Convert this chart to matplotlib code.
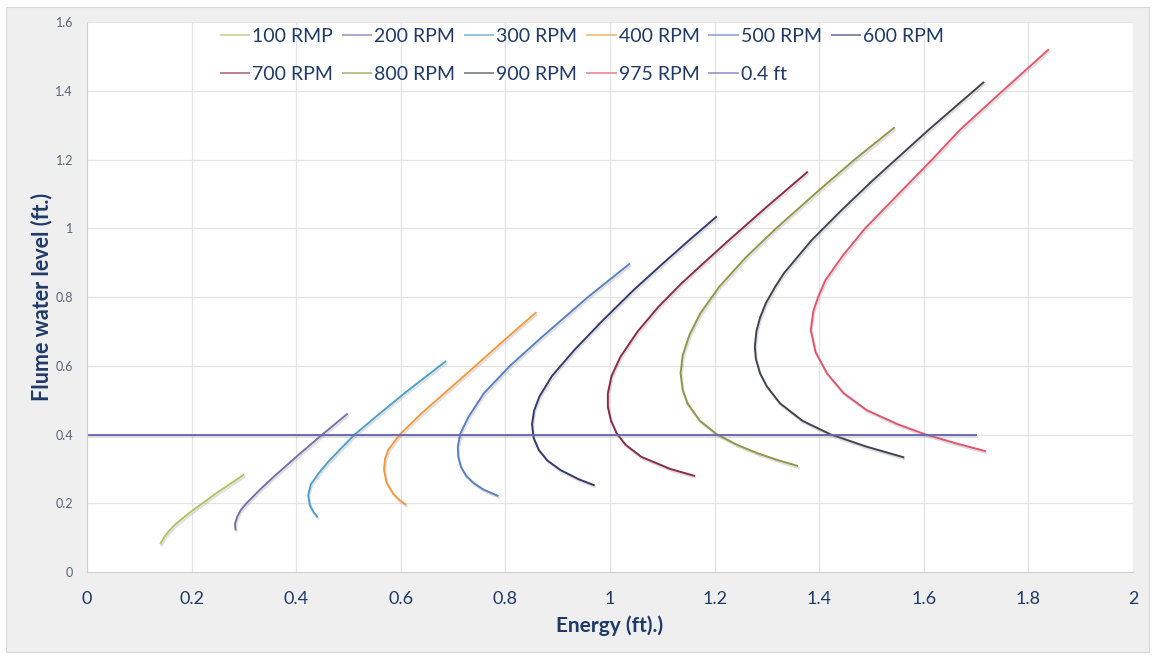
import matplotlib
matplotlib.use('Agg')
import matplotlib.pyplot as plt
import matplotlib.patheffects as pe
from matplotlib.patches import Rectangle

plt.rcParams['font.family'] = ['Lato', 'DejaVu Sans']

# specific energy curves (energy ft, flume depth ft)
labels = ['100 RMP', '200 RPM', '300 RPM', '400 RPM', '500 RPM',
          '600 RPM', '700 RPM', '800 RPM', '900 RPM', '975 RPM']
colors = ['#b3c064', '#7a6fa6', '#4f9fc6', '#f39a3e', '#5a80c0',
          '#343b6c', '#8a2b4c', '#8e9848', '#40444f', '#e0566e']

e_100 = [0.141, 0.147, 0.157, 0.170, 0.195, 0.245, 0.299]
y_100 = [0.083, 0.100, 0.120, 0.140, 0.171, 0.227, 0.282]
e_200 = [0.284, 0.283, 0.287, 0.294, 0.305, 0.331, 0.357, 0.404, 0.450, 0.497]
y_200 = [0.124, 0.140, 0.160, 0.180, 0.200, 0.240, 0.277, 0.340, 0.400, 0.459]
e_300 = [0.440, 0.433, 0.426, 0.423, 0.428, 0.443, 0.461, 0.486, 0.512, 0.559, 0.607, 0.685]
y_300 = [0.161, 0.175, 0.195, 0.224, 0.255, 0.287, 0.320, 0.360, 0.400, 0.460, 0.520, 0.612]
e_400 = [0.609, 0.597, 0.585, 0.573, 0.568, 0.570, 0.576, 0.598, 0.640, 0.676, 0.743, 0.802, 0.858]
y_400 = [0.197, 0.210, 0.229, 0.260, 0.297, 0.330, 0.355, 0.400, 0.462, 0.510, 0.600, 0.680, 0.754]
e_500 = [0.785, 0.758, 0.740, 0.725, 0.715, 0.710, 0.709, 0.714, 0.729, 0.759, 0.809, 0.871, 0.958, 1.037]
y_500 = [0.222, 0.240, 0.258, 0.280, 0.306, 0.335, 0.365, 0.403, 0.450, 0.520, 0.600, 0.685, 0.800, 0.896]
e_600 = [0.969, 0.940, 0.905, 0.880, 0.864, 0.854, 0.851, 0.855, 0.865, 0.889, 0.932, 0.985,
         1.045, 1.103, 1.152, 1.203]
y_600 = [0.253, 0.270, 0.297, 0.325, 0.355, 0.390, 0.430, 0.470, 0.510, 0.570, 0.646, 0.730,
         0.820, 0.900, 0.966, 1.033]
e_700 = [1.161, 1.115, 1.060, 1.030, 1.013, 1.002, 0.996, 0.996, 1.003, 1.020, 1.053, 1.093,
         1.137, 1.180, 1.228, 1.298, 1.377]
y_700 = [0.280, 0.300, 0.335, 0.370, 0.403, 0.440, 0.480, 0.520, 0.570, 0.626, 0.700, 0.772,
         0.840, 0.900, 0.966, 1.060, 1.163]
e_800 = [1.358, 1.322, 1.283, 1.243, 1.204, 1.172, 1.148, 1.139, 1.135, 1.139, 1.152, 1.173,
         1.209, 1.261, 1.318, 1.400, 1.468, 1.543]
y_800 = [0.309, 0.325, 0.345, 0.370, 0.401, 0.440, 0.491, 0.530, 0.578, 0.630, 0.690, 0.753,
         0.830, 0.917, 1.000, 1.111, 1.200, 1.292]
e_900 = [1.561, 1.490, 1.421, 1.368, 1.325, 1.300, 1.287, 1.279, 1.277, 1.280, 1.287, 1.298,
         1.316, 1.333, 1.386, 1.441, 1.503, 1.556, 1.609, 1.714]
y_900 = [0.334, 0.365, 0.401, 0.440, 0.491, 0.540, 0.578, 0.620, 0.655, 0.700, 0.740, 0.782,
         0.830, 0.870, 0.966, 1.050, 1.140, 1.213, 1.286, 1.424]
e_975 = [1.717, 1.660, 1.602, 1.550, 1.491, 1.447, 1.415, 1.393, 1.384, 1.389, 1.398, 1.412,
         1.445, 1.488, 1.552, 1.616, 1.669, 1.751, 1.838]
y_975 = [0.352, 0.375, 0.401, 0.430, 0.471, 0.520, 0.578, 0.640, 0.704, 0.760, 0.800, 0.849,
         0.920, 1.000, 1.100, 1.200, 1.286, 1.400, 1.519]

energies = [e_100, e_200, e_300, e_400, e_500, e_600, e_700, e_800, e_900, e_975]
depths = [y_100, y_200, y_300, y_400, y_500, y_600, y_700, y_800, y_900, y_975]

# 0.4 ft reference line
ref_e = [0, 1.70]
ref_y = [0.4, 0.4]

navy = '#1f3a68'
shadow = [pe.SimpleLineShadow(offset=(0.8, -1.5), shadow_color='#808080', alpha=0.25),
          pe.Normal()]

fig = plt.figure(figsize=(11.55, 6.6), dpi=100)
fig.patch.set_facecolor('white')
fig.patches.append(Rectangle((0.005, 0.012), 0.99, 0.978, transform=fig.transFigure,
                             facecolor='#efefef', edgecolor='#d8d8d8', lw=0.8, zorder=-1))
ax = fig.add_axes([0.0753, 0.1333, 0.9056, 0.8333])
ax.set_facecolor('white')

handles = []
for e, y, lab, c in zip(energies, depths, labels, colors):
    h, = ax.plot(e, y, color=c, lw=1.4, label=lab, path_effects=shadow,
                 solid_joinstyle='round')
    handles.append(h)
h, = ax.plot(ref_e, ref_y, color='#6b6bb3', lw=1.4, label='0.4 ft', path_effects=shadow)
handles.append(h)

ax.set_xlim(0, 2)
ax.set_ylim(0, 1.6)
ax.set_xticks([0, 0.2, 0.4, 0.6, 0.8, 1, 1.2, 1.4, 1.6, 1.8, 2])
ax.set_xticklabels(['0', '0.2', '0.4', '0.6', '0.8', '1', '1.2', '1.4', '1.6', '1.8', '2'])
ax.set_yticks([0, 0.2, 0.4, 0.6, 0.8, 1, 1.2, 1.4, 1.6])
ax.set_yticklabels(['0', '0.2', '0.4', '0.6', '0.8', '1', '1.2', '1.4', '1.6'])
ax.grid(True, color='#e4e4e4', lw=0.9)
ax.set_axisbelow(True)
for s in ['top', 'right']:
    ax.spines[s].set_visible(False)
for s in ['left', 'bottom']:
    ax.spines[s].set_color('#d0d0d0')
ax.tick_params(length=0)
ax.tick_params(axis='x', labelsize=13, labelcolor=navy, pad=14)
ax.tick_params(axis='y', labelsize=9, labelcolor='#5a6378', pad=10)

ax.set_xlabel('Energy (ft).)', fontsize=15, fontweight='bold', color=navy, labelpad=6)
ax.set_ylabel('Flume water level (ft.)', fontsize=15.5, fontweight='bold', color=navy, labelpad=2)

# legend rows are filled row by row, so reorder for matplotlib's column fill
order = [0, 6, 1, 7, 2, 8, 3, 9, 4, 10, 5]
leg = ax.legend([handles[i] for i in order], [handles[i].get_label() for i in order],
                ncol=6, loc='upper left', bbox_to_anchor=(0.128, 0.99),
                frameon=False, fontsize=14, handlelength=1.45, handletextpad=0.15,
                columnspacing=0.52, borderpad=0, borderaxespad=0, labelspacing=1.1)
for t in leg.get_texts():
    t.set_color(navy)
for lh in leg.legend_handles:
    lh.set_path_effects([])
    lh.set_alpha(0.6)

fig.savefig('out.png', dpi=100, facecolor=fig.get_facecolor())
